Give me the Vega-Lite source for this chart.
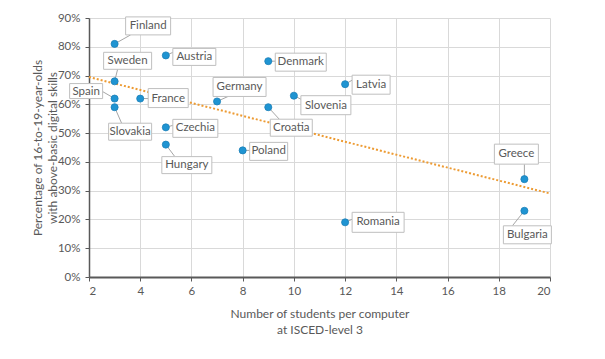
{
  "$schema": "https://vega.github.io/schema/vega-lite/v6.json",
  "width": 461,
  "height": 259,
  "autosize": "none",
  "padding": {"left": 89, "top": 18, "right": 55, "bottom": 82},
  "background": "white",
  "config": {
    "view": {"stroke": null},
    "font": "Lato",
    "axis": {
      "labelFont": "Lato", "labelFontSize": 11.5, "labelColor": "#595959",
      "titleFont": "Lato", "titleFontSize": 12, "titleColor": "#595959", "titleFontWeight": "normal",
      "gridColor": "#d9d9d9", "gridWidth": 1,
      "domainColor": "#595959", "tickColor": "#595959", "tickSize": 4
    }
  },
  "data": {
    "values": [
      {"c": "Finland", "x": 3, "y": 81},
      {"c": "Austria", "x": 5, "y": 77},
      {"c": "Sweden", "x": 3, "y": 68},
      {"c": "Spain", "x": 3, "y": 62},
      {"c": "Slovakia", "x": 3, "y": 59},
      {"c": "France", "x": 4, "y": 62},
      {"c": "Czechia", "x": 5, "y": 52},
      {"c": "Hungary", "x": 5, "y": 46},
      {"c": "Germany", "x": 7, "y": 61},
      {"c": "Denmark", "x": 9, "y": 75},
      {"c": "Croatia", "x": 9, "y": 59},
      {"c": "Slovenia", "x": 10, "y": 63},
      {"c": "Latvia", "x": 12, "y": 67},
      {"c": "Poland", "x": 8, "y": 44},
      {"c": "Romania", "x": 12, "y": 19},
      {"c": "Greece", "x": 19, "y": 34},
      {"c": "Bulgaria", "x": 19, "y": 23}
    ]
  },
  "encoding": {
    "x": {"field": "x", "type": "quantitative", "scale": {"domain": [2, 20], "nice": false},
      "axis": {"values": [2,4,6,8,10,12,14,16,18,20], "title": ["Number of students per computer", "at ISCED-level 3"], "titlePadding": 12, "labelPadding": 4, "domainWidth": 2, "titleLineHeight": 16}},
    "y": {"field": "y", "type": "quantitative", "scale": {"domain": [0, 90], "nice": false},
      "axis": {"values": [0,10,20,30,40,50,60,70,80,90], "labelExpr": "datum.value + '%'", "title": ["Percentage of 16-to-19-year-olds", "with above-basic digital skills"], "titlePadding": -2, "labelPadding": 5, "domainWidth": 1.5, "titleLineHeight": 15}}
  },
  "layer": [
    {
      "transform": [{"regression": "y", "on": "x", "extent": [2, 20]}],
      "mark": {"type": "line", "color": "#ED9B33", "strokeDash": [2, 2], "strokeWidth": 2},
      "encoding": {"x": {"field": "x", "type": "quantitative"}, "y": {"field": "y", "type": "quantitative"}}
    },
    {"transform": [{"filter": "datum.c === 'Finland'"}], "layer": [
      {"mark": {"type": "rule", "color": "#a6a6a6", "x2Offset": 16, "y2Offset": -9}, "encoding": {"x2": {"field": "x"}, "y2": {"field": "y"}}},
      {"mark": {"type": "rect", "fill": "white", "stroke": "#bfbfbf", "xOffset": 11, "x2Offset": 56, "yOffset": -27, "y2Offset": -9}, "encoding": {"x2": {"field": "x"}, "y2": {"field": "y"}}},
      {"mark": {"type": "text", "dx": 33.5, "dy": -18, "fontSize": 11.5, "color": "#595959", "baseline": "middle"}, "encoding": {"text": {"field": "c"}}}
    ]},
    {"transform": [{"filter": "datum.c === 'Austria'"}], "layer": [
      {"mark": {"type": "rule", "color": "#a6a6a6", "x2Offset": 7, "y2Offset": -3}, "encoding": {"x2": {"field": "x"}, "y2": {"field": "y"}}},
      {"mark": {"type": "rect", "fill": "white", "stroke": "#bfbfbf", "xOffset": 7, "x2Offset": 50, "yOffset": -7, "y2Offset": 10}, "encoding": {"x2": {"field": "x"}, "y2": {"field": "y"}}},
      {"mark": {"type": "text", "dx": 28.5, "dy": 1.5, "fontSize": 11.5, "color": "#595959", "baseline": "middle"}, "encoding": {"text": {"field": "c"}}}
    ]},
    {"transform": [{"filter": "datum.c === 'Sweden'"}], "layer": [
      {"mark": {"type": "rule", "color": "#a6a6a6", "x2Offset": 3, "y2Offset": -12}, "encoding": {"x2": {"field": "x"}, "y2": {"field": "y"}}},
      {"mark": {"type": "rect", "fill": "white", "stroke": "#bfbfbf", "xOffset": -11, "x2Offset": 37, "yOffset": -29, "y2Offset": -12}, "encoding": {"x2": {"field": "x"}, "y2": {"field": "y"}}},
      {"mark": {"type": "text", "dx": 13, "dy": -20.5, "fontSize": 11.5, "color": "#595959", "baseline": "middle"}, "encoding": {"text": {"field": "c"}}}
    ]},
    {"transform": [{"filter": "datum.c === 'Spain'"}], "layer": [
      {"mark": {"type": "rule", "color": "#a6a6a6", "x2Offset": -12, "y2Offset": -7}, "encoding": {"x2": {"field": "x"}, "y2": {"field": "y"}}},
      {"mark": {"type": "rect", "fill": "white", "stroke": "#bfbfbf", "xOffset": -45, "x2Offset": -12, "yOffset": -15, "y2Offset": 0}, "encoding": {"x2": {"field": "x"}, "y2": {"field": "y"}}},
      {"mark": {"type": "text", "dx": -28.5, "dy": -7, "fontSize": 11.5, "color": "#595959", "baseline": "middle"}, "encoding": {"text": {"field": "c"}}}
    ]},
    {"transform": [{"filter": "datum.c === 'Slovakia'"}], "layer": [
      {"mark": {"type": "rule", "color": "#a6a6a6", "x2Offset": 7, "y2Offset": 16}, "encoding": {"x2": {"field": "x"}, "y2": {"field": "y"}}},
      {"mark": {"type": "rect", "fill": "white", "stroke": "#bfbfbf", "xOffset": -6, "x2Offset": 37, "yOffset": 16, "y2Offset": 33}, "encoding": {"x2": {"field": "x"}, "y2": {"field": "y"}}},
      {"mark": {"type": "text", "dx": 15.5, "dy": 24.5, "fontSize": 11.5, "color": "#595959", "baseline": "middle"}, "encoding": {"text": {"field": "c"}}}
    ]},
    {"transform": [{"filter": "datum.c === 'France'"}], "layer": [
      {"mark": {"type": "rule", "color": "#a6a6a6", "x2Offset": 8, "y2Offset": 0}, "encoding": {"x2": {"field": "x"}, "y2": {"field": "y"}}},
      {"mark": {"type": "rect", "fill": "white", "stroke": "#bfbfbf", "xOffset": 8, "x2Offset": 48, "yOffset": -10, "y2Offset": 9}, "encoding": {"x2": {"field": "x"}, "y2": {"field": "y"}}},
      {"mark": {"type": "text", "dx": 28, "dy": 0, "fontSize": 11.5, "color": "#595959", "baseline": "middle"}, "encoding": {"text": {"field": "c"}}}
    ]},
    {"transform": [{"filter": "datum.c === 'Czechia'"}], "layer": [
      {"mark": {"type": "rule", "color": "#a6a6a6", "x2Offset": 7, "y2Offset": -2}, "encoding": {"x2": {"field": "x"}, "y2": {"field": "y"}}},
      {"mark": {"type": "rect", "fill": "white", "stroke": "#bfbfbf", "xOffset": 7, "x2Offset": 52, "yOffset": -8, "y2Offset": 10}, "encoding": {"x2": {"field": "x"}, "y2": {"field": "y"}}},
      {"mark": {"type": "text", "dx": 29.5, "dy": 1, "fontSize": 11.5, "color": "#595959", "baseline": "middle"}, "encoding": {"text": {"field": "c"}}}
    ]},
    {"transform": [{"filter": "datum.c === 'Hungary'"}], "layer": [
      {"mark": {"type": "rule", "color": "#a6a6a6", "x2Offset": 9, "y2Offset": 12}, "encoding": {"x2": {"field": "x"}, "y2": {"field": "y"}}},
      {"mark": {"type": "rect", "fill": "white", "stroke": "#bfbfbf", "xOffset": -4, "x2Offset": 46, "yOffset": 12, "y2Offset": 29}, "encoding": {"x2": {"field": "x"}, "y2": {"field": "y"}}},
      {"mark": {"type": "text", "dx": 21, "dy": 20.5, "fontSize": 11.5, "color": "#595959", "baseline": "middle"}, "encoding": {"text": {"field": "c"}}}
    ]},
    {"transform": [{"filter": "datum.c === 'Germany'"}], "layer": [
      {"mark": {"type": "rule", "color": "#a6a6a6", "x2Offset": 11, "y2Offset": -5}, "encoding": {"x2": {"field": "x"}, "y2": {"field": "y"}}},
      {"mark": {"type": "rect", "fill": "white", "stroke": "#bfbfbf", "xOffset": -4, "x2Offset": 49, "yOffset": -24, "y2Offset": -5}, "encoding": {"x2": {"field": "x"}, "y2": {"field": "y"}}},
      {"mark": {"type": "text", "dx": 22.5, "dy": -14.5, "fontSize": 11.5, "color": "#595959", "baseline": "middle"}, "encoding": {"text": {"field": "c"}}}
    ]},
    {"transform": [{"filter": "datum.c === 'Denmark'"}], "layer": [
      {"mark": {"type": "rule", "color": "#a6a6a6", "x2Offset": 7, "y2Offset": 0}, "encoding": {"x2": {"field": "x"}, "y2": {"field": "y"}}},
      {"mark": {"type": "rect", "fill": "white", "stroke": "#bfbfbf", "xOffset": 7, "x2Offset": 58, "yOffset": -8, "y2Offset": 10}, "encoding": {"x2": {"field": "x"}, "y2": {"field": "y"}}},
      {"mark": {"type": "text", "dx": 32.5, "dy": 1, "fontSize": 11.5, "color": "#595959", "baseline": "middle"}, "encoding": {"text": {"field": "c"}}}
    ]},
    {"transform": [{"filter": "datum.c === 'Croatia'"}], "layer": [
      {"mark": {"type": "rule", "color": "#a6a6a6", "x2Offset": 11, "y2Offset": 12}, "encoding": {"x2": {"field": "x"}, "y2": {"field": "y"}}},
      {"mark": {"type": "rect", "fill": "white", "stroke": "#bfbfbf", "xOffset": 2, "x2Offset": 44, "yOffset": 12, "y2Offset": 29}, "encoding": {"x2": {"field": "x"}, "y2": {"field": "y"}}},
      {"mark": {"type": "text", "dx": 23, "dy": 20.5, "fontSize": 11.5, "color": "#595959", "baseline": "middle"}, "encoding": {"text": {"field": "c"}}}
    ]},
    {"transform": [{"filter": "datum.c === 'Slovenia'"}], "layer": [
      {"mark": {"type": "rule", "color": "#a6a6a6", "x2Offset": 8, "y2Offset": 4}, "encoding": {"x2": {"field": "x"}, "y2": {"field": "y"}}},
      {"mark": {"type": "rect", "fill": "white", "stroke": "#bfbfbf", "xOffset": 7, "x2Offset": 57, "yOffset": 0, "y2Offset": 19}, "encoding": {"x2": {"field": "x"}, "y2": {"field": "y"}}},
      {"mark": {"type": "text", "dx": 32, "dy": 10, "fontSize": 11.5, "color": "#595959", "baseline": "middle"}, "encoding": {"text": {"field": "c"}}}
    ]},
    {"transform": [{"filter": "datum.c === 'Latvia'"}], "layer": [
      {"mark": {"type": "rule", "color": "#a6a6a6", "x2Offset": 7, "y2Offset": -4}, "encoding": {"x2": {"field": "x"}, "y2": {"field": "y"}}},
      {"mark": {"type": "rect", "fill": "white", "stroke": "#bfbfbf", "xOffset": 7, "x2Offset": 45, "yOffset": -9, "y2Offset": 10}, "encoding": {"x2": {"field": "x"}, "y2": {"field": "y"}}},
      {"mark": {"type": "text", "dx": 26, "dy": 0.5, "fontSize": 11.5, "color": "#595959", "baseline": "middle"}, "encoding": {"text": {"field": "c"}}}
    ]},
    {"transform": [{"filter": "datum.c === 'Poland'"}], "layer": [
      {"mark": {"type": "rule", "color": "#a6a6a6", "x2Offset": 7, "y2Offset": 0}, "encoding": {"x2": {"field": "x"}, "y2": {"field": "y"}}},
      {"mark": {"type": "rect", "fill": "white", "stroke": "#bfbfbf", "xOffset": 7, "x2Offset": 45, "yOffset": -8, "y2Offset": 10}, "encoding": {"x2": {"field": "x"}, "y2": {"field": "y"}}},
      {"mark": {"type": "text", "dx": 26, "dy": 1, "fontSize": 11.5, "color": "#595959", "baseline": "middle"}, "encoding": {"text": {"field": "c"}}}
    ]},
    {"transform": [{"filter": "datum.c === 'Romania'"}], "layer": [
      {"mark": {"type": "rule", "color": "#a6a6a6", "x2Offset": 7, "y2Offset": -3}, "encoding": {"x2": {"field": "x"}, "y2": {"field": "y"}}},
      {"mark": {"type": "rect", "fill": "white", "stroke": "#bfbfbf", "xOffset": 7, "x2Offset": 59, "yOffset": -10, "y2Offset": 10}, "encoding": {"x2": {"field": "x"}, "y2": {"field": "y"}}},
      {"mark": {"type": "text", "dx": 33, "dy": 0, "fontSize": 11.5, "color": "#595959", "baseline": "middle"}, "encoding": {"text": {"field": "c"}}}
    ]},
    {"transform": [{"filter": "datum.c === 'Greece'"}], "layer": [
      {"mark": {"type": "rule", "color": "#a6a6a6", "x2Offset": 0, "y2Offset": -15}, "encoding": {"x2": {"field": "x"}, "y2": {"field": "y"}}},
      {"mark": {"type": "rect", "fill": "white", "stroke": "#bfbfbf", "xOffset": -30, "x2Offset": 14, "yOffset": -35, "y2Offset": -15}, "encoding": {"x2": {"field": "x"}, "y2": {"field": "y"}}},
      {"mark": {"type": "text", "dx": -8, "dy": -25, "fontSize": 11.5, "color": "#595959", "baseline": "middle"}, "encoding": {"text": {"field": "c"}}}
    ]},
    {"transform": [{"filter": "datum.c === 'Bulgaria'"}], "layer": [
      {"mark": {"type": "rule", "color": "#a6a6a6", "x2Offset": -12, "y2Offset": 15}, "encoding": {"x2": {"field": "x"}, "y2": {"field": "y"}}},
      {"mark": {"type": "rect", "fill": "white", "stroke": "#bfbfbf", "xOffset": -21, "x2Offset": 27, "yOffset": 15, "y2Offset": 33}, "encoding": {"x2": {"field": "x"}, "y2": {"field": "y"}}},
      {"mark": {"type": "text", "dx": 3, "dy": 24, "fontSize": 11.5, "color": "#595959", "baseline": "middle"}, "encoding": {"text": {"field": "c"}}}
    ]},
    {
      "mark": {"type": "circle", "size": 50, "color": "#1f94d2", "opacity": 1, "stroke": "#1a7fb8", "strokeWidth": 0.8}
    }
  ]
}
